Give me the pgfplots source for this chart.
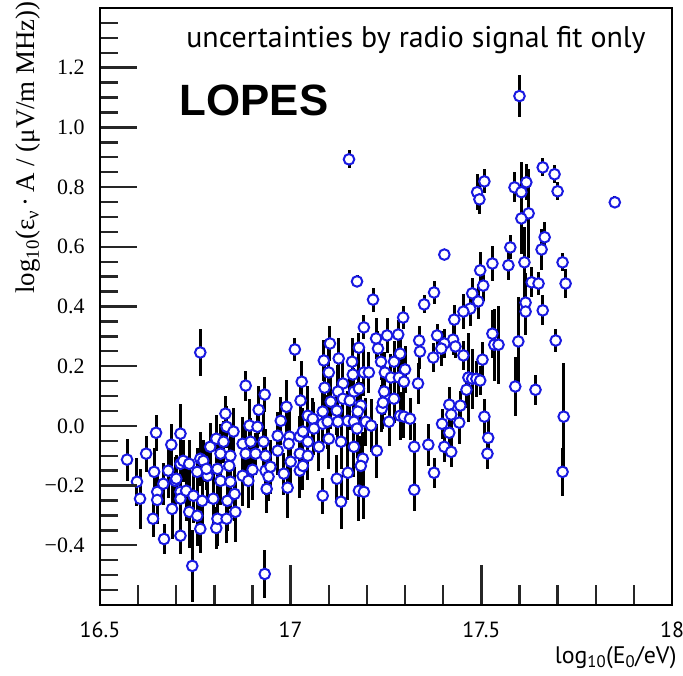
\documentclass[border=0pt]{standalone}
\usepackage{fontspec}
\setmainfont{Liberation Serif}
\newfontfamily\sansf{PT Sans}
\newfontfamily\boldsans{Liberation Sans}
\usepackage{pgfplots}
\usepackage{pgfplotstable}
\pgfplotsset{compat=1.18}
\definecolor{mblue}{RGB}{25,25,225}

\pgfplotstableread{
x y e
16.571 -0.113 0.07
16.597 -0.187 0.08
16.605 -0.244 0.10
16.621 -0.093 0.06
16.647 -0.023 0.06
16.687 -0.063 0.07
16.711 -0.026 0.10
16.642 -0.154 0.08
16.650 -0.221 0.07
16.650 -0.248 0.08
16.639 -0.311 0.06
16.668 -0.379 0.05
16.689 -0.278 0.10
16.711 -0.368 0.06
16.679 -0.150 0.09
16.697 -0.184 0.08
16.711 -0.127 0.09
16.718 -0.117 0.07
16.734 -0.127 0.08
16.666 -0.194 0.07
16.711 -0.221 0.09
16.711 -0.244 0.08
16.726 -0.217 0.10
16.734 -0.288 0.12
16.755 -0.301 0.10
16.763 -0.345 0.08
16.742 -0.469 0.12
16.763 -0.110 0.09
16.771 -0.117 0.07
16.755 -0.154 0.08
16.782 -0.167 0.09
16.768 -0.251 0.10
16.789 -0.070 0.08
16.763 0.246 0.08
16.745 -0.234 0.09
16.700 -0.177 0.08
16.779 -0.144 0.07
16.808 -0.144 0.09
16.797 -0.244 0.09
16.805 -0.342 0.07
16.829 0.041 0.06
16.882 0.135 0.05
16.932 0.105 0.06
16.916 0.054 0.08
16.989 0.064 0.09
17.026 0.085 0.07
16.974 0.017 0.08
17.045 0.034 0.10
17.058 0.024 0.07
16.832 -0.003 0.07
16.850 -0.019 0.08
16.892 0.001 0.09
16.913 -0.003 0.07
16.805 -0.043 0.08
16.824 -0.053 0.07
16.874 -0.060 0.09
16.895 -0.053 0.08
16.929 -0.053 0.10
16.966 -0.033 0.08
16.997 -0.036 0.09
17.024 -0.036 0.07
16.995 -0.060 0.08
17.074 -0.070 0.08
16.816 -0.093 0.10
16.842 -0.100 0.08
16.882 -0.093 0.09
16.908 -0.093 0.07
16.934 -0.100 0.09
16.966 -0.083 0.08
17.024 -0.093 0.10
17.045 -0.100 0.08
16.839 -0.134 0.09
16.900 -0.147 0.10
16.934 -0.150 0.08
16.947 -0.137 0.09
17.000 -0.120 0.10
17.024 -0.150 0.09
17.032 -0.134 0.08
16.816 -0.184 0.08
16.842 -0.187 0.09
16.874 -0.167 0.10
16.889 -0.184 0.09
16.942 -0.170 0.08
16.982 -0.160 0.07
16.992 -0.207 0.10
16.937 -0.211 0.08
16.834 -0.251 0.10
16.853 -0.228 0.09
16.855 -0.288 0.10
16.808 -0.311 0.09
16.832 -0.311 0.08
16.932 -0.496 0.08
17.011 0.256 0.04
17.029 0.148 0.07
17.174 0.484 0.02
17.216 0.423 0.04
17.295 0.363 0.04
17.192 0.330 0.04
17.103 0.276 0.06
17.179 0.262 0.05
17.224 0.293 0.07
17.253 0.303 0.06
17.282 0.306 0.05
17.229 0.259 0.06
17.337 0.286 0.05
17.339 0.249 0.06
17.087 0.219 0.07
17.126 0.226 0.07
17.161 0.215 0.08
17.237 0.215 0.06
17.271 0.215 0.07
17.287 0.242 0.06
17.192 0.179 0.08
17.205 0.179 0.07
17.100 0.179 0.08
17.163 0.172 0.09
17.247 0.179 0.07
17.263 0.162 0.08
17.300 0.189 0.08
17.284 0.162 0.07
17.297 0.148 0.08
17.334 0.142 0.07
17.137 0.142 0.09
17.089 0.128 0.08
17.124 0.115 0.09
17.166 0.115 0.08
17.179 0.125 0.10
17.245 0.115 0.08
17.271 0.091 0.08
17.105 0.081 0.09
17.137 0.091 0.08
17.155 0.085 0.10
17.184 0.068 0.08
17.239 0.058 0.08
17.242 0.078 0.09
17.084 0.048 0.09
17.121 0.051 0.08
17.176 0.048 0.10
17.287 0.034 0.08
17.297 0.031 0.07
17.313 0.024 0.07
17.258 0.014 0.08
17.084 0.007 0.08
17.097 0.014 0.09
17.124 0.014 0.08
17.150 0.017 0.10
17.166 0.014 0.09
17.197 0.014 0.08
17.211 0.001 0.09
17.174 -0.009 0.10
17.100 -0.043 0.10
17.132 -0.053 0.09
17.166 -0.070 0.10
17.226 -0.083 0.09
17.324 -0.070 0.08
17.361 -0.063 0.07
17.189 -0.110 0.09
17.184 -0.134 0.10
17.150 -0.157 0.09
17.121 -0.177 0.08
17.324 -0.214 0.07
17.084 -0.234 0.06
17.132 -0.254 0.09
17.179 -0.217 0.10
17.192 -0.221 0.09
17.153 0.893 0.03
17.350 0.407 0.03
17.032 -0.019 0.08
17.061 -0.009 0.09
17.045 -0.053 0.08
17.661 0.866 0.03
17.508 0.819 0.04
17.489 0.783 0.06
17.495 0.759 0.05
17.587 0.799 0.05
17.618 0.816 0.06
17.605 0.783 0.10
17.624 0.712 0.15
17.605 0.695 0.12
17.403 0.574 0.01
17.666 0.632 0.05
17.658 0.591 0.07
17.576 0.598 0.04
17.529 0.544 0.06
17.571 0.538 0.05
17.613 0.548 0.12
17.497 0.521 0.06
17.505 0.470 0.05
17.632 0.481 0.05
17.650 0.477 0.04
17.376 0.447 0.04
17.476 0.444 0.05
17.492 0.417 0.06
17.471 0.393 0.06
17.453 0.383 0.06
17.429 0.356 0.05
17.616 0.413 0.10
17.616 0.383 0.08
17.661 0.387 0.05
17.384 0.303 0.04
17.426 0.289 0.05
17.403 0.276 0.05
17.395 0.259 0.06
17.432 0.266 0.04
17.453 0.236 0.05
17.374 0.229 0.05
17.529 0.309 0.08
17.534 0.272 0.12
17.545 0.272 0.13
17.597 0.283 0.15
17.503 0.222 0.06
17.466 0.162 0.15
17.476 0.158 0.10
17.487 0.158 0.06
17.497 0.152 0.05
17.461 0.121 0.06
17.589 0.132 0.10
17.642 0.121 0.05
17.416 0.071 0.06
17.445 0.068 0.05
17.421 0.038 0.05
17.397 0.007 0.05
17.442 0.011 0.07
17.508 0.031 0.06
17.416 -0.023 0.07
17.518 -0.040 0.07
17.403 -0.070 0.05
17.421 -0.087 0.05
17.516 -0.093 0.05
17.376 -0.157 0.05
17.692 0.843 0.03
17.700 0.786 0.03
17.850 0.749 0.02
17.713 0.548 0.03
17.721 0.477 0.05
17.695 0.286 0.04
17.716 0.031 0.18
17.713 -0.154 0.08
17.600 1.105 0.07
}\datatab

\tikzset{tk/.style={draw=black!85, line width=2.4bp}}

\begin{document}
\begin{tikzpicture}
\begin{axis}[name=ax, scale only axis, width=572bp, height=597bp,
  xmin=16.5, xmax=18, ymin=-0.6, ymax=1.4,
  tick align=inside, tick pos=left,
  major tick length=0pt, minor tick length=0pt,
  tick style={draw=none},
  xtick={16.5,17,17.5,18}, xticklabels={16.5,17,17.5,18},
  ytick={-0.4,-0.2,0,0.2,0.4,0.6,0.8,1.0,1.2},
  yticklabels={−0.4,−0.2,0.0,0.2,0.4,0.6,0.8,1.0,1.2},
  xticklabel style={font=\sansf\fontsize{22}{22}\selectfont, yshift=-13bp},
  yticklabel style={font=\fontsize{22}{22}\selectfont, xshift=-12bp},
  xlabel={log\textsubscript{10}(E\textsubscript{0}/eV)},
  xlabel style={at={(axis description cs:1,0)}, anchor=north east, yshift=-38bp, xshift=8bp, font=\sansf\fontsize{24}{24}\selectfont},
]
% tick marks of the frame (axis decoration)
\pgfplotsinvokeforeach{17,17.5}{\draw[tk] (axis cs:#1,-0.6) -- ++(0pt,40bp);}
\pgfplotsinvokeforeach{16.6,16.7,16.8,16.9,17.1,17.2,17.3,17.4,17.6,17.7,17.8,17.9}{\draw[tk] (axis cs:#1,-0.6) -- ++(0pt,20bp);}
\addplot[only marks, mark=*, mark size=5.3bp,
  mark options={draw=mblue, fill=white, line width=2bp},
  error bars/.cd, y dir=both, y explicit,
  error bar style={line width=3bp, black}, error mark=none]
  table[x=x, y=y, y error=e] {\datatab};
\end{axis}
% y-axis tick marks (frame decoration), 298.5bp per unit of y
\foreach \v in {-0.4,-0.2,0,0.2,0.4,0.6,0.8,1.0,1.2}{
  \draw[tk] ([yshift={(\v+0.6)*298.5bp}]ax.south west) -- ++(37bp,0pt);}
\foreach \v in {-0.55,-0.5,-0.45,-0.35,-0.3,-0.25,-0.15,-0.1,-0.05,0.05,0.1,0.15,0.25,0.3,0.35,0.45,0.5,0.55,0.65,0.7,0.75,0.85,0.9,0.95,1.05,1.1,1.15,1.25,1.3,1.35}{
  \draw[tk] ([yshift={(\v+0.6)*298.5bp}]ax.south west) -- ++(18bp,0pt);}
\draw[line width=2.8bp, black] (ax.south west) rectangle (ax.north east);
\node[font=\sansf\fontsize{30}{30}\selectfont] at ([xshift=316bp,yshift=-32bp]ax.north west) {uncertainties by radio signal fit only};
\node[font=\boldsans\bfseries\fontsize{44}{44}\selectfont] at ([xshift=154bp,yshift=-92bp]ax.north west) {LOPES};
\node[rotate=90, anchor=south east, font=\fontsize{27}{27}\selectfont, inner sep=1bp] at ([xshift=-58bp,yshift=8bp]ax.north west) {log\textsubscript{10}(ε\textsubscript{ν}\,·\,A / (μV/m MHz))};
\pgfresetboundingbox
\path[use as bounding box] ([xshift=-100bp,yshift=-71bp]ax.south west) rectangle ([xshift=11bp,yshift=8bp]ax.north east);
\end{tikzpicture}
\end{document}
